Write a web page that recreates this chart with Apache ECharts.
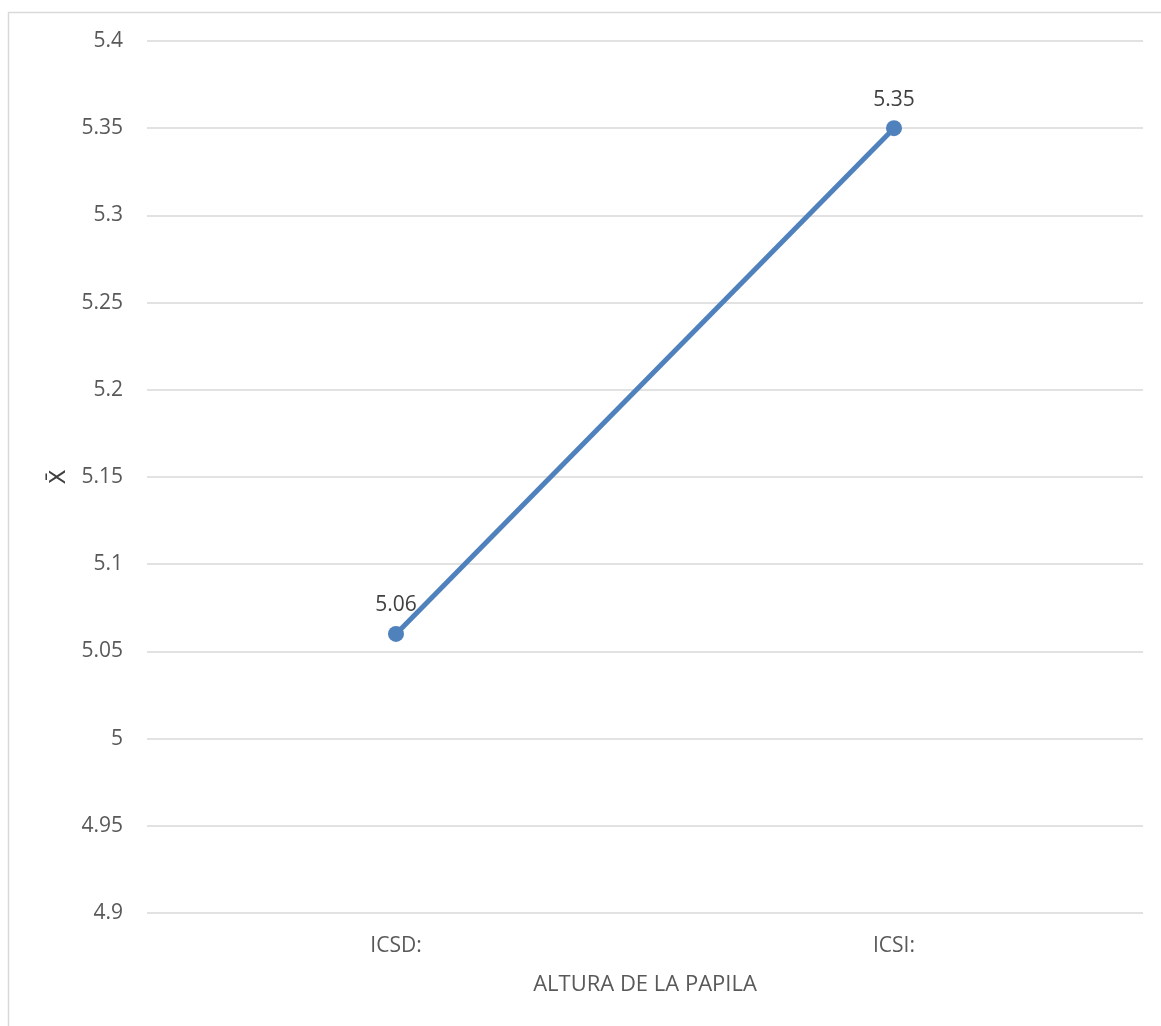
<!DOCTYPE html>
<html>
<head>
<meta charset="utf-8">
<script src="https://cdn.jsdelivr.net/npm/echarts@6/dist/echarts.min.js"></script>
<style>html,body{margin:0;padding:0;background:#fff}#c{width:1161px;height:1026px}</style>
</head>
<body>
<div id="c"></div>
<script>
var categories = ['ICSD:', 'ICSI:'];
var values = [5.06, 5.35];
var yMin = 4.9, yMax = 5.4, yStep = 0.05;

var chart = echarts.init(document.getElementById('c'));
chart.setOption({
  animation: false,
  graphic: [{
    type: 'rect', shape: {x: 8.5, y: 12.5, width: 1300, height: 1200},
    style: {fill: 'none', stroke: '#d9d9d9', lineWidth: 1.5}, silent: true, z: -1
  }],
  grid: {left: 147, right: 18, top: 41, bottom: 113},
  xAxis: {
    type: 'category', data: categories, boundaryGap: true,
    name: 'ALTURA DE LA PAPILA', nameLocation: 'middle', nameGap: 61,
    nameTextStyle: {color: '#595959', fontSize: 22, fontFamily: 'Open Sans'},
    axisLine: {show: false}, axisTick: {show: false},
    axisLabel: {color: '#595959', fontSize: 21, fontFamily: 'Open Sans', margin: 23},
    splitLine: {show: false}
  },
  yAxis: {
    type: 'value', min: yMin, max: yMax, interval: yStep,
    name: 'X\u0304', nameLocation: 'middle', nameGap: 76, nameRotate: 90,
    nameTextStyle: {color: '#404040', fontSize: 22, fontFamily: 'DejaVu Sans'},
    axisLine: {show: false}, axisTick: {show: false},
    axisLabel: {color: '#595959', fontSize: 21, fontFamily: 'Open Sans', margin: 24,
      formatter: function (v) { return String(parseFloat(v.toFixed(2))); }},
    splitLine: {lineStyle: {color: '#d9d9d9', width: 1.5}}
  },
  series: [{
    type: 'line', data: values,
    symbol: 'circle', symbolSize: 16,
    lineStyle: {color: '#4f81bd', width: 5},
    itemStyle: {color: '#4f81bd'},
    label: {show: true, position: 'top', distance: 10, color: '#404040', fontSize: 21, fontFamily: 'Open Sans'}
  }]
});
</script>
</body>
</html>
